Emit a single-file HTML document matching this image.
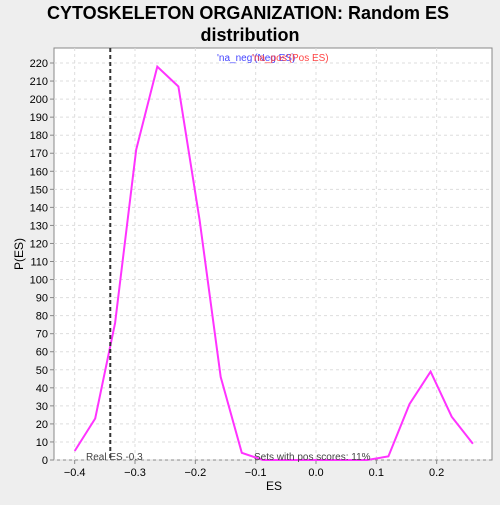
<!DOCTYPE html>
<html><head><meta charset="utf-8"><style>
body{margin:0;background:#eeeeee;font-family:"Liberation Sans",sans-serif;}
svg text{font-family:"Liberation Sans",sans-serif;}
</style></head><body>
<svg id="c" width="500" height="500">
<rect x="0" y="0" width="500" height="500" fill="#eeeeee"/>
<text x="248" y="19" text-anchor="middle" font-size="18" font-weight="bold">CYTOSKELETON ORGANIZATION: Random ES</text>
<text x="250" y="41" text-anchor="middle" font-size="18" font-weight="bold">distribution</text>
<rect x="54" y="48" width="438" height="412" fill="#ffffff" stroke="#888"/>
<g id="grid"></g><g id="axes"></g><g id="series"></g>
<text x="274" y="490" text-anchor="middle" font-size="12">ES</text>
<text x="23" y="254" text-anchor="middle" font-size="12" transform="rotate(-90 23 254)">P(ES)</text>
<text x="217" y="61" font-size="10" fill="#4444ff">'na_neg'(Neg ES)</text>
<text x="252" y="61" font-size="10" fill="#ff4444">'na_pos'(Pos ES)</text>
<text x="86" y="460" font-size="10" fill="#444">Real ES -0.3</text>
<text x="254" y="460" font-size="10" fill="#444">Sets with pos scores: 11%</text>
</svg>
<script>
const esValues=[-0.4,-0.366,-0.333,-0.298,-0.263,-0.228,-0.193,-0.158,-0.123,-0.088,-0.053,-0.018,0.017,0.052,0.085,0.12,0.155,0.19,0.225,0.26];
const densityValues=[5,23,76,172,218,207,133,46,4,0,0,0,0,0,0,2,31,49,24,9];
const xTicks=[-0.4,-0.3,-0.2,-0.1,0.0,0.1,0.2];
const xTickLabels=["-0.4","-0.3","-0.2","-0.1","0.0","0.1","0.2"];
const yTicks=[0,10,20,30,40,50,60,70,80,90,100,110,120,130,140,150,160,170,180,190,200,210,220];
const realES=[-0.341];
const NS="http://www.w3.org/2000/svg";
const X=v=>316+v*603.3, Y=v=>460-v*1.8045;
function mk(t,a,p){const e=document.createElementNS(NS,t);for(const k in a)e.setAttribute(k,a[k]);document.getElementById(p).appendChild(e);return e;}
xTicks.forEach((v,i)=>{
 const g=mk('line',{x1:X(v),x2:X(v),y1:48,y2:460,stroke:'#ddd','stroke-dasharray':'3,3'},'grid');
 
 
 const t=mk('line',{x1:X(v),x2:X(v),y1:460,y2:464,stroke:'#888'},'axes');
 
 
 const l=mk('text',{x:X(v),y:476,'text-anchor':'middle','font-size':11},'axes');l.textContent=xTickLabels[i].replace('-','\u2212');
 
 
});
yTicks.forEach(v=>{
 const g=mk('line',{x1:54,x2:492,y1:Y(v),y2:Y(v),stroke:'#ddd','stroke-dasharray':'3,3'},'grid');
 
 
 const t=mk('line',{x1:50,x2:54,y1:Y(v),y2:Y(v),stroke:'#888'},'axes');
 
 
 const l=mk('text',{x:48,y:Y(v)+4,'text-anchor':'end','font-size':11},'axes');l.textContent=v;
 
 
});
const pts=esValues.map((v,i)=>X(v).toFixed(1)+','+Y(densityValues[i]).toFixed(1)).join(' ');
const pl=mk('polyline',{points:pts,fill:'none',stroke:'#ff33ff','stroke-width':2},'series');


const rl=mk('line',{x1:X(realES[0]),x2:X(realES[0]),y1:48,y2:460,stroke:'#333','stroke-width':2,'stroke-dasharray':'4,3'},'series');


</script>
</body></html>
